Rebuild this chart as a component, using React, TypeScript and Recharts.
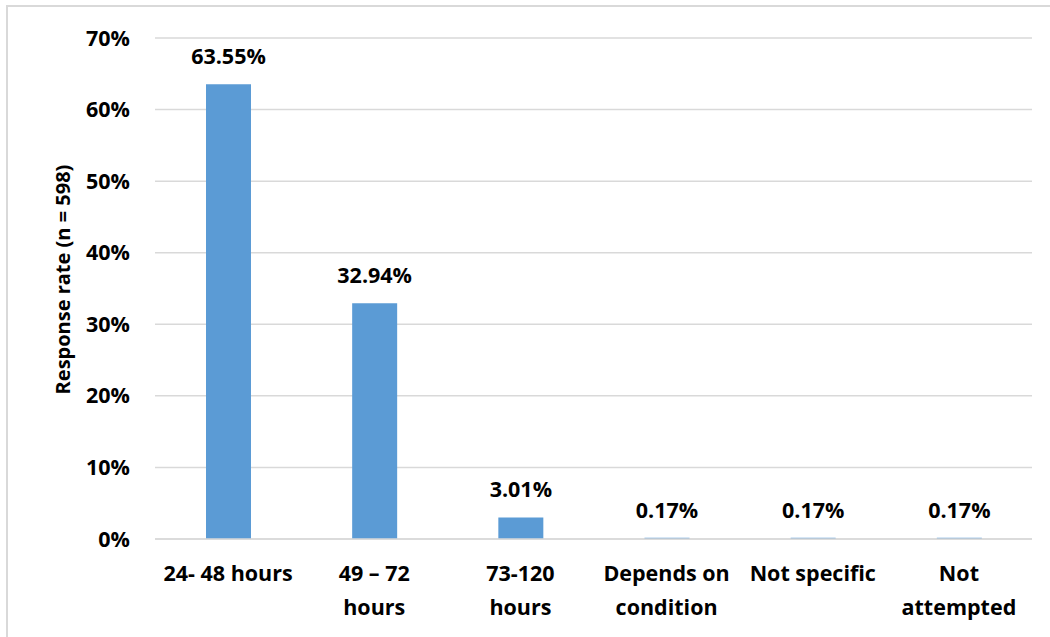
import { Bar, BarChart, CartesianGrid, LabelList, XAxis, YAxis } from 'recharts';

const categories = ['24- 48 hours', '49 – 72 hours', '73-120 hours', 'Depends on condition', 'Not specific', 'Not attempted'];
const tickLines = [['24- 48 hours'], ['49 – 72', 'hours'], ['73-120', 'hours'], ['Depends on', 'condition'], ['Not specific'], ['Not', 'attempted']];
const responseRate = [63.55, 32.94, 3.01, 0.17, 0.17, 0.17];
const yTicks = [0, 10, 20, 30, 40, 50, 60, 70];

const data = categories.map((name, i) => ({ name, value: responseRate[i] }));

const FONT = '"Open Sans", Lato, sans-serif';

function XTick({ x, y, index }: any) {
  const lines = tickLines[index] || [];
  return (
    <text x={x} y={y} textAnchor="middle" fontFamily={FONT} fontWeight={700} fontSize={21.5} fill="#000">
      {lines.map((l, i) => (
        <tspan key={i} x={x} dy={i === 0 ? 34 : 34}>
          {l}
        </tspan>
      ))}
    </text>
  );
}

function YLabel({ viewBox }: any) {
  const cx = viewBox.x + 7;
  const cy = viewBox.y + viewBox.height / 2 - 9;
  return (
    <text
      x={cx}
      y={cy}
      transform={`rotate(-90 ${cx} ${cy})`}
      textAnchor="middle"
      dominantBaseline="central"
      fontFamily={FONT}
      fontWeight={700}
      fontSize={20}
      fill="#000"
    >
      Response rate (n = 598)
    </text>
  );
}

export default function App() {
  return (
    <div style={{ position: 'absolute', left: 0, top: 0, width: 1050, height: 637, background: '#fff', overflow: 'hidden' }}>
      <div
        style={{
          position: 'absolute',
          left: 6,
          top: 5,
          width: 1050,
          height: 640,
          border: '2px solid #d9d9d9',
          boxSizing: 'border-box',
        }}
      />
      <BarChart width={1050} height={637} data={data} margin={{ top: 38, right: 18, bottom: 0, left: 55 }}>
        <CartesianGrid vertical={false} stroke="#d9d9d9" strokeWidth={1.5} />
        <XAxis
          dataKey="name"
          interval={0}
          height={98}
          tickLine={false}
          axisLine={{ stroke: '#d9d9d9', strokeWidth: 1.5 }}
          tick={<XTick />}
        />
        <YAxis
          width={100}
          domain={[0, 70]}
          ticks={yTicks}
          tickFormatter={(v: number) => `${v}%`}
          axisLine={false}
          tickLine={false}
          tickSize={0}
          tickMargin={25}
          tick={{ fontFamily: FONT, fontWeight: 700, fontSize: 21.5, fill: '#000' }}
          label={<YLabel />}
        />
        <Bar dataKey="value" fill="#5b9bd5" barSize={45} isAnimationActive={false}>
          <LabelList
            dataKey="value"
            position="top"
            offset={20}
            formatter={(v: any) => `${Number(v).toFixed(2)}%`}
            style={{ fontFamily: FONT, fontWeight: 700, fontSize: 21.5, fill: '#000' }}
          />
        </Bar>
      </BarChart>
    </div>
  );
}
